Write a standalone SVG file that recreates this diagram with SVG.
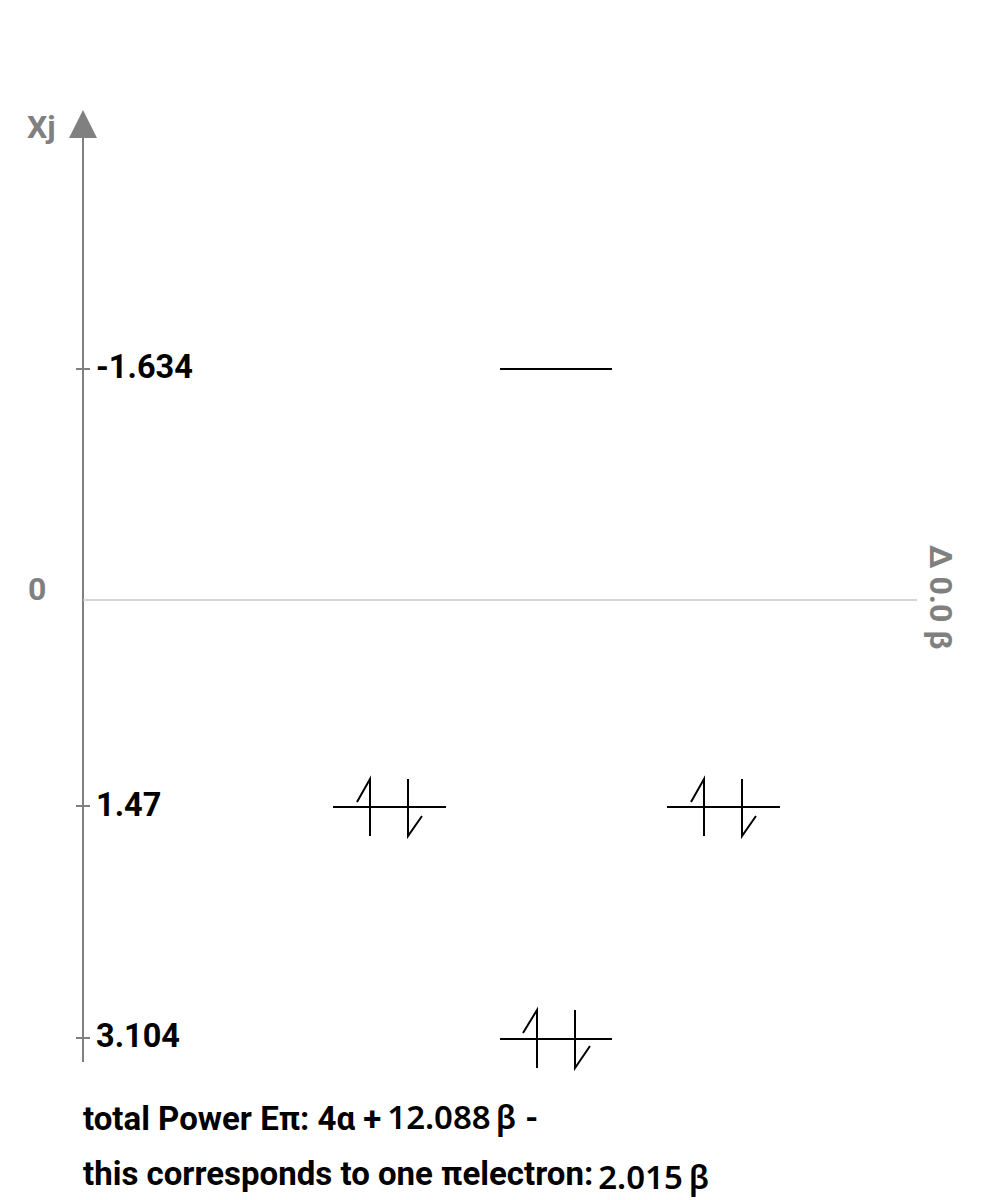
<svg xmlns="http://www.w3.org/2000/svg" width="1000" height="1200" viewBox="0 0 1000 1200">
<style>
.ax{stroke:#808080;stroke-width:2;fill:none}
.zero{stroke:#c8c8c8;stroke-width:1.5;fill:none}
.gl{font-family:Roboto,"Liberation Sans",sans-serif;font-weight:bold;fill:#808080}
.lb{font-family:Roboto,"Liberation Sans",sans-serif;font-weight:bold;font-size:32.5px;fill:#000}
.lv{stroke:#000;stroke-width:2;fill:none}
.t{font-family:Roboto,"Liberation Sans",sans-serif;font-weight:bold;font-size:33px;fill:#000}
.n{font-family:"Noto Sans","Open Sans",sans-serif;font-weight:600;font-size:33px}
</style>
<rect width="1000" height="1200" fill="#fff"/>
<g id="axes">
<line class="ax" x1="83" y1="136" x2="83" y2="1062"/>
<polygon points="83,110 69,138 97,138" fill="#808080"/>
<text class="gl" x="27" y="138" font-size="32">Xj</text>
<line class="zero" x1="83" y1="600" x2="917" y2="600"/>
<text class="gl" x="28" y="600" font-size="32">0</text>
<text class="gl" font-size="32" transform="translate(930,545) rotate(90)">Δ 0.0 β</text>
<line class="ax" x1="76" y1="369" x2="90" y2="369"/>
<line class="ax" x1="76" y1="806" x2="90" y2="806"/>
<line class="ax" x1="76" y1="1038" x2="90" y2="1038"/>
</g>
<g id="tick-labels">
<text class="lb" x="96" y="378">-1.634</text>
<text class="lb" x="96" y="816">1.47</text>
<text class="lb" x="96" y="1047">3.104</text>
</g>
<g id="level-1">
<line class="lv" x1="500" y1="369" x2="612" y2="369"/>
</g>
<g id="level-2a">
<line class="lv" x1="333" y1="807" x2="446" y2="807"/>
<path class="lv" d="M370,836 V779 L357,802 M408,779 V836 L422,816"/>
</g>
<g id="level-2b">
<line class="lv" x1="667" y1="807" x2="780" y2="807"/>
<path class="lv" d="M704,836 V779 L691,802 M742,779 V836 L756,816"/>
</g>
<g id="level-3">
<line class="lv" x1="500" y1="1039" x2="612" y2="1039"/>
<path class="lv" d="M537,1068 V1010 L523,1033 M575,1010 V1068 L590,1046"/>
</g>
<g id="summary">
<text class="t" x="83" y="1130">total Power Eπ: 4α +<tspan class="n" dx="6" y="1129">12.088</tspan><tspan class="n" dx="5">β</tspan><tspan dx="9">-</tspan></text>
<text class="t" x="83" y="1185">this corresponds to one πelectron:<tspan class="n" dx="5" y="1189">2.015</tspan><tspan class="n" dx="6">β</tspan></text>
</g>
</svg>
